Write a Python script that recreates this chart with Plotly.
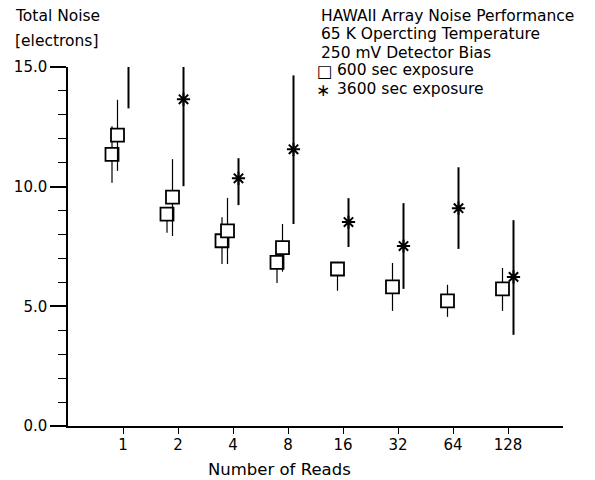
import numpy as np
import plotly.graph_objects as go

# ---------------- data ----------------
reads = [1, 2, 4, 8, 16, 32, 64, 128]
tick_labels = ["1", "2", "4", "8", "16", "32", "64", "128"]

# 600 sec exposure, first measurement set (1-8 reads)
reads_600a = [1, 2, 4, 8]
noise_600a = [11.35, 8.85, 7.74, 6.84]
hi_600a = [12.52, 9.15, 8.72, 7.15]
lo_600a = [10.16, 8.07, 6.77, 5.97]

# 600 sec exposure, second measurement set
noise_600b = [12.15, 9.56, 8.15, 7.45, 6.56, 5.81, 5.23, 5.73]
hi_600b = [13.63, 11.15, 9.53, 8.44, 6.85, 6.81, 5.90, 6.60]
lo_600b = [10.66, 7.94, 6.77, 6.45, 5.65, 4.81, 4.56, 4.81]

# 3600 sec exposure
noise_3600 = [16.0, 13.65, 10.35, 11.56, 8.52, 7.52, 9.10, 6.23]
hi_3600 = [17.5, 15.5, 11.19, 14.65, 9.52, 9.31, 10.81, 8.60]
lo_3600 = [13.27, 10.02, 9.23, 8.44, 7.48, 5.73, 7.40, 3.81]

# ---------------- layout constants ----------------
# The page body has an 8px margin, so the figure is drawn 8px right/down.
OFF = 8
PW, PH = 595, 480
X0, X1 = 68, 563      # plot area, page pixels
Y0, Y1 = 66.5, 426.5
W, H = PW - OFF, 472
FONT = "DejaVu Sans"
FS = 15.5


def px_x(px):
    return (px - X0) / (X1 - X0)


def px_y(py):
    return (Y1 - py) / (Y1 - Y0)


def err(vals, hi, lo):
    v = np.array(vals)
    return dict(type="data", symmetric=False, array=np.array(hi) - v,
                arrayminus=v - np.array(lo))


lx = np.log2(reads)
lx_a = np.log2(reads_600a)

fig = go.Figure()

fig.add_trace(go.Scatter(
    x=lx_a - 0.2, y=noise_600a, mode="markers",
    marker=dict(symbol="square", size=13, color="white",
                line=dict(color="black", width=1.8)),
    error_y=dict(**err(noise_600a, hi_600a, lo_600a), color="black",
                 thickness=1.2, width=0),
    showlegend=False))

fig.add_trace(go.Scatter(
    x=lx - 0.1, y=noise_600b, mode="markers",
    marker=dict(symbol="square", size=13, color="white",
                line=dict(color="black", width=1.8)),
    error_y=dict(**err(noise_600b, hi_600b, lo_600b), color="black",
                 thickness=1.2, width=0),
    showlegend=False))

fig.add_trace(go.Scatter(
    x=lx + 0.1, y=noise_3600, mode="markers",
    marker=dict(symbol="asterisk-open", size=11, color="black",
                line=dict(color="black", width=2)),
    error_y=dict(**err(noise_3600, hi_3600, lo_3600), color="black",
                 thickness=2, width=0),
    showlegend=False))

annots = []


def add_text(txt, px, py, anchor="left", size=FS):
    annots.append(dict(text=txt, x=px_x(px), y=px_y(py), xref="paper",
                       yref="paper", xanchor=anchor, yanchor="middle",
                       showarrow=False, borderpad=0,
                       font=dict(family=FONT, size=size, color="black")))


add_text("Total Noise", 14, 15)
add_text("[electrons]", 14, 40)
add_text("HAWAII Array Noise Performance", 320, 15)
add_text("65 K Opercting Temperature", 320, 33.5)
add_text("250 mV Detector Bias", 320, 52)
add_text("\u25a1", 324.5, 71.5, anchor="center", size=16.5)
add_text("600 sec exposure", 336, 70)
add_text("\u2217", 322.5, 90, anchor="center", size=17)
add_text("3600 sec exposure", 336, 88.5)
add_text("Number of Reads", 279, 470, anchor="center", size=16.5)

fig.update_layout(
    width=W, height=H,
    margin=dict(l=X0 - OFF, r=PW - X1, t=Y0 - OFF, b=H + OFF - Y1,
                autoexpand=False),
    paper_bgcolor="white", plot_bgcolor="white",
    font=dict(family=FONT, size=FS, color="black"),
    annotations=annots,
    xaxis=dict(range=[-1, 8], tickmode="array", tickvals=lx,
               ticktext=tick_labels, ticks="outside", ticklen=6,
               tickwidth=1.2, tickcolor="black", showline=True,
               linewidth=1.5, linecolor="black", showgrid=False,
               zeroline=False, ticklabelstandoff=-2, automargin=False,
               tickfont=dict(family=FONT, size=15)),
    yaxis=dict(range=[0, 15], tickmode="linear", tick0=0, dtick=5,
               tickformat=".1f", ticks="outside", ticklen=16,
               tickwidth=1.5, tickcolor="black", showline=True,
               linewidth=1.5, linecolor="black", showgrid=False,
               zeroline=False, automargin=False,
               tickfont=dict(family=FONT, size=15),
               minor=dict(dtick=1, ticks="outside", ticklen=8,
                          tickwidth=1, tickcolor="black", showgrid=False)),
)

fig.write_html("out.html")
